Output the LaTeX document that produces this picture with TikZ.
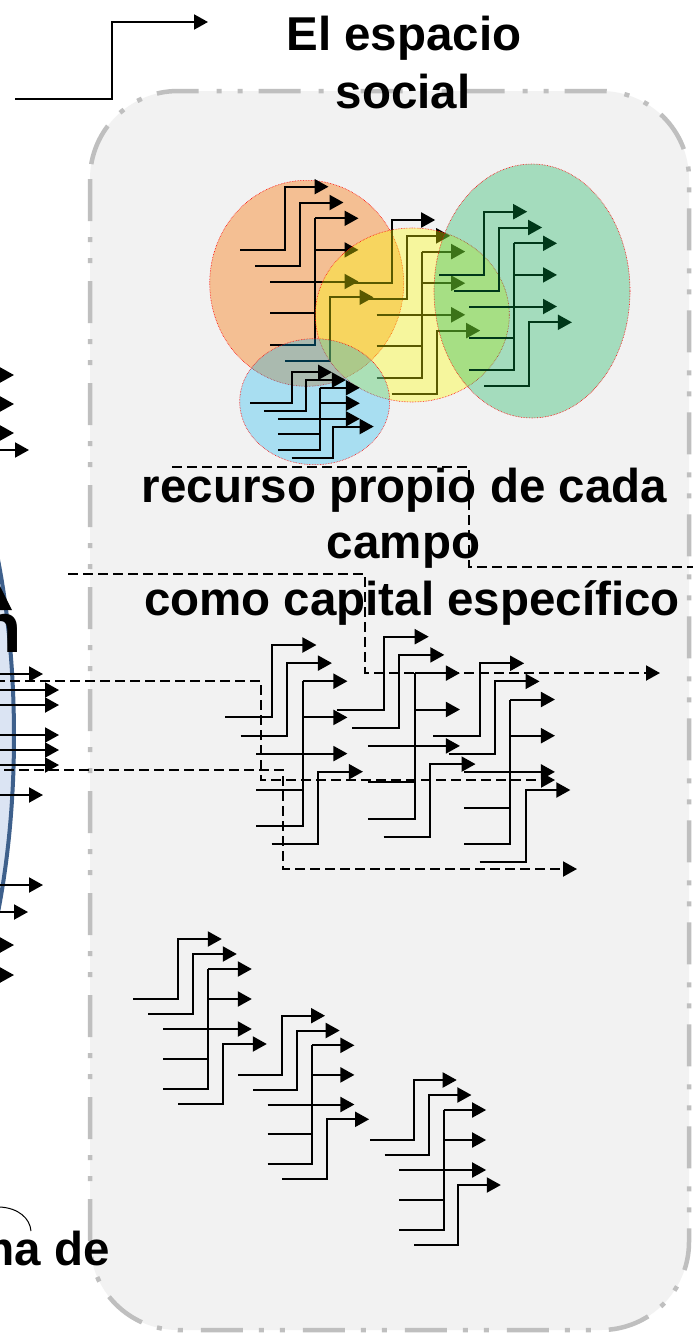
\documentclass[tikz,border=0pt]{standalone}
\usepackage{fontspec}
\setmainfont{Liberation Sans}
\usetikzlibrary{arrows.meta}
\definecolor{naranja}{RGB}{247,150,70}
\definecolor{amarillo}{RGB}{255,255,0}
\definecolor{verde}{RGB}{0,176,80}
\definecolor{celeste}{RGB}{0,176,240}
\definecolor{fondo}{RGB}{242,242,242}
\definecolor{borde}{RGB}{191,191,191}
\definecolor{azulclaro}{RGB}{219,228,243}
\definecolor{azuloscuro}{RGB}{62,96,140}
\newcommand*{\grande}{\fontsize{47.5}{57}\selectfont\bfseries}
\newcommand*{\haz}[4]{%
    \begin{scope}[shift={(#1,#2)}, x=#3pt, y=-#4pt]
        \draw [punta] (0,4) -- (3,4) -- (3,0) -- (5.9,0);
        \draw [punta] (1,5) -- (4,5) -- (4,1) -- (6.9,1);
        \draw (2,8) -- (5,8);
        \draw (2,10) -- (5,10) -- (5,2);
        \draw [punta] (5,2) -- (7.9,2);
        \draw [punta] (5,4) -- (7.9,4);
        \draw [punta] (2,6) -- (7.9,6);
        \draw [punta] (3,11) -- (6,11) -- (6,7) -- (8.9,7);
    \end{scope}}
\tikzset{
    punta/.style = {-{Triangle[length=14pt, width=15pt]}},
    guion/.style = {dash pattern=on 10pt off 5pt},
    mancha/.style = {draw=red, densely dotted, line width=0.6pt},
    caja/.style = {fill=fondo, draw=borde, line width=4.5pt, rounded corners=88pt,
                   dash pattern=on 42pt off 16pt on 5pt off 16pt on 5pt off 18pt}
}

\begin{document}
\begin{tikzpicture}[x=1pt, y=-1pt, line width=2pt, font=\grande]
    \useasboundingbox (0,0) rectangle (693,1333);
    \fill [white] (0,0) rectangle (693,1333);
    \draw [caja] (90,91) rectangle (689,1330);

    % lado izquierdo
    \draw [fill=azulclaro, draw=azuloscuro, line width=4pt] (-136,736) ellipse [x radius=150pt, y radius=392pt];
    \foreach \ty/\tx in {375/14, 404/14, 433/14, 450/29, 674/43, 690/59, 705/59, 735/59,
                         750/59, 765/59, 795/43, 885/43, 912/28, 945/14, 975/14}
        \draw [punta] (-30,\ty) -- (\tx,\ty);
    \fill (-14,610) -- (12,610) -- (-1,584) -- cycle;
    \node [anchor=base east, inner sep=0, font=\fontsize{71}{80}\selectfont\bfseries] (letra) at (22.5,652) {n};
    \node [anchor=base east, inner sep=0] (forma) at (111,1265) {ma de};
    \draw [line width=1pt] (0,1207) .. controls (18,1208) and (30,1218) .. (31,1231);

    \coordinate (inicio) at (15,99);
    \coordinate (fin) at (208,22);
    \draw [punta] (inicio) -- (112,99) |- (fin);

    \node [anchor=base] (espacio) at (404,50) {El espacio};
    \node [anchor=base] (social) at (403,108) {social};

    % campos
    \fill [naranja, fill opacity=0.55] (306.7,283.3) ellipse [x radius=97pt, y radius=103pt];
    \draw [mancha] (306.7,283.3) ellipse [x radius=97pt, y radius=103pt];
    \haz{240}{186.7}{15}{15.8}
    \haz{346.7}{220}{15}{15.8}
    \draw [mancha, fill=amarillo, fill opacity=0.35] (412.3,315) ellipse [x radius=97pt, y radius=87pt];
    \haz{439.3}{211.7}{14.9}{15.8}
    \draw [mancha, fill=verde, fill opacity=0.32] (532,291) ellipse [x radius=98pt, y radius=127pt];
    \draw [mancha, fill=celeste, fill opacity=0.3] (314.7,401.7) ellipse [x radius=75pt, y radius=63pt];
    \haz{250}{372.3}{13.9}{7.75}

    \haz{225}{645}{15.5}{18.1}
    \haz{336.7}{636.7}{15.6}{18.2}
    \haz{433.3}{663.3}{15.4}{18.1}

    \haz{133.3}{939}{15}{15}
    \haz{238.3}{1015.7}{14.7}{14.8}
    \haz{370}{1080}{14.7}{15}

    \node [anchor=base] (recurso) at (404.5,502) {recurso propio de cada};
    \node [anchor=base] (campo) at (403.5,558) {campo};
    \node [anchor=base] (capital) at (412,615) {como capital específico};

    \coordinate (salida) at (700,567);
    \draw [guion] (172,467) -- (469,467) |- (salida);
    \draw [guion, punta] (68,574) -- (365,574) |- (660,673);
    \draw [guion, punta] (-5,681) -- (261,681) |- (555,780);
    \draw [guion, punta] (4,770) -- (283,770) |- (577,869);
\end{tikzpicture}
\end{document}
